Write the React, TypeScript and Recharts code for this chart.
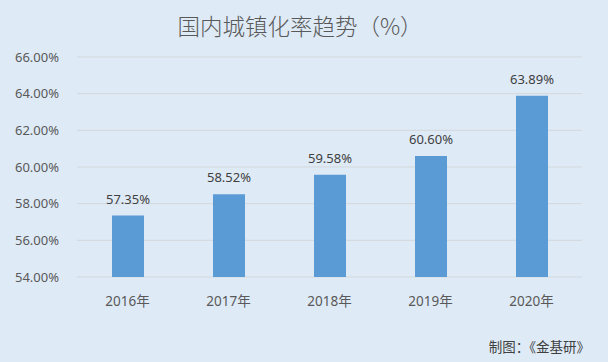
import { BarChart, Bar, XAxis, YAxis, CartesianGrid, LabelList } from 'recharts';

const years = ['2016年', '2017年', '2018年', '2019年', '2020年'];
const rates = [57.35, 58.52, 59.58, 60.6, 63.89];
const yTicks = [54, 56, 58, 60, 62, 64, 66];

const datos = years.map((year, i) => ({ year, rate: rates[i] }));

const font = '"Noto Sans", "Noto Sans CJK SC", sans-serif';
const textColor = '#595959';

export default function App() {
  return (
    <div
      style={{
        position: 'fixed',
        top: 0,
        left: 0,
        width: 608,
        height: 362,
        background: '#deeaf6',
        fontFamily: font,
      }}
    >
      <BarChart
        width={608}
        height={362}
        data={datos}
        margin={{ top: 57, right: 26, bottom: 55, left: 0 }}
      >
        {/* título */}
        <text
          x={300}
          y={35}
          textAnchor="middle"
          fontSize={22.5}
          fontWeight={300}
          fill={textColor}
          fontFamily='"Noto Sans CJK SC", sans-serif'
        >
          国内城镇化率趋势（%）
        </text>
        <CartesianGrid vertical={false} stroke="#d3d7dc" />
        <XAxis
          dataKey="year"
          tickLine={false}
          axisLine={false}
          tickMargin={13}
          height={30}
          tick={{ fill: textColor, fontSize: 13.5, fontFamily: font }}
        />
        <YAxis
          domain={[54, 66]}
          ticks={yTicks}
          tickFormatter={(v) => v.toFixed(2) + '%'}
          tickLine={false}
          axisLine={false}
          tickMargin={12}
          width={77}
          tick={{ fill: textColor, fontSize: 13, fontFamily: font }}
        />
        <Bar dataKey="rate" fill="#5b9bd5" barSize={32} isAnimationActive={false}>
          <LabelList
            dataKey="rate"
            position="top"
            offset={12}
            formatter={(v: any) => Number(v).toFixed(2) + '%'}
            style={{ fill: '#404040', fontSize: 13, fontFamily: font }}
          />
        </Bar>
        {/* pie */}
        <text x={590} y={352} textAnchor="end" fontSize={13.5} fill="#404040" fontFamily={font}>
          制图：《金基研》
        </text>
      </BarChart>
    </div>
  );
}
